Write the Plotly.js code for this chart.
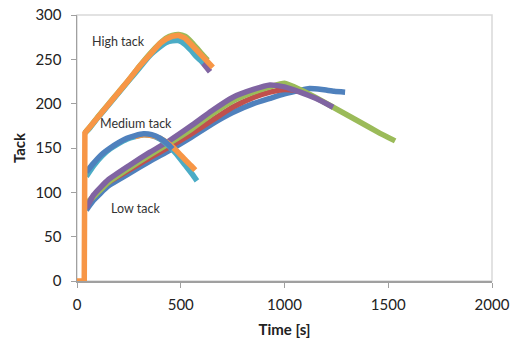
<!DOCTYPE html>
<html><head><meta charset="utf-8">
<script src="https://cdn.plot.ly/plotly-3.0.1.min.js"></script>
<style>html,body{margin:0;padding:0;background:#fff}#c{width:511px;height:339px}</style>
</head><body><div id="c"></div>
<script>
// High tack series
const highOrangeT = [0, 35, 38, 60, 100, 150, 200, 250, 300, 350, 400, 430, 460, 490, 520, 550, 580, 610, 640, 655];
const highOrangeY = [0, 0, 167, 173, 185, 199, 213, 227, 242, 256, 268, 273, 276, 277, 274, 267, 259, 251, 244, 241];
const highGreenT = [38, 60, 100, 150, 200, 250, 300, 350, 400, 430, 460, 490, 520, 550, 580, 610, 630];
const highGreenY = [167, 173, 185, 199, 213, 227, 242, 256, 268, 274, 277, 278, 276, 270, 262, 254, 249];
const highAquaT = [38, 60, 100, 150, 200, 250, 300, 350, 400, 430, 460, 490, 520, 550, 580, 610];
const highAquaY = [167, 172, 184, 198, 212, 226, 240, 254, 264, 269, 271, 271, 267, 260, 252, 246];
const highPurpleT = [400, 450, 500, 540, 580, 610, 641];
const highPurpleY = [266, 272, 272, 265, 254, 245, 236];

// Medium tack series
const medBlueT = [45, 80, 120, 160, 200, 240, 280, 320, 360, 400, 440, 460];
const medBlueY = [123, 133, 143, 150, 156, 161, 164, 166, 165, 161, 154, 149];
const medAquaT = [45, 80, 120, 160, 200, 240, 280, 320, 360, 400, 440, 480, 520, 560, 578];
const medAquaY = [118, 130, 141, 149, 155, 160, 163, 165, 164, 160, 153, 143, 131, 119, 113];
const medOrangeT = [280, 320, 360, 400, 440, 480, 520, 550, 570];
const medOrangeY = [163, 165, 164, 161, 155, 147, 137, 130, 125];

// Low tack series
const lowBlueT = [45, 80, 150, 250, 350, 450, 550, 650, 750, 850, 930, 1000, 1075, 1120, 1180, 1240, 1292];
const lowBlueY = [80, 91, 107, 121, 135, 148, 162, 177, 190, 200, 206, 211, 215, 217, 216, 214, 213];
const lowRedT = [45, 80, 150, 250, 350, 450, 550, 650, 750, 850, 930, 1000, 1050, 1100];
const lowRedY = [85, 96, 111, 125, 139, 152, 166, 181, 196, 207, 213, 216, 215, 212];
const lowPurpleT = [45, 80, 150, 250, 350, 450, 550, 650, 750, 850, 930, 1000, 1075, 1150, 1234];
const lowPurpleY = [82, 97, 114, 130, 145, 159, 175, 192, 207, 216, 221, 219, 213, 206, 196];
const lowGreenT = [45, 80, 150, 250, 350, 450, 550, 650, 750, 850, 930, 1000, 1075, 1150, 1250, 1350, 1450, 1533];
const lowGreenY = [88, 95, 111, 127, 142, 156, 171, 188, 203, 213, 219, 223, 216, 207, 194, 181, 168, 158];

// Labels
const labelText = ["High tack", "Medium tack", "Low tack"];
const labelT = [202, 284, 280];
const labelY = [270, 178, 82];

const C = {blue:'#4F81BD', red:'#C0504D', green:'#9BBB59', purple:'#8064A2', aqua:'#4BACC6', orange:'#F79646'};
const W = 5.5;
function tr(x, y, c) {
  return {x: x, y: y, type: 'scatter', mode: 'lines', line: {color: c, width: W, shape: 'spline', smoothing: 0.5}, hoverinfo: 'skip', showlegend: false};
}
const data = [
  tr(lowBlueT, lowBlueY, C.blue),
  tr(lowRedT, lowRedY, C.red),
  tr(lowGreenT, lowGreenY, C.green),
  tr(lowPurpleT, lowPurpleY, C.purple),
  tr(medAquaT, medAquaY, C.aqua),
  tr(medOrangeT, medOrangeY, C.orange),
  tr(medBlueT, medBlueY, C.blue),
  tr(highPurpleT, highPurpleY, C.purple),
  tr(highAquaT, highAquaY, C.aqua),
  tr(highGreenT, highGreenY, C.green),
  Object.assign(tr(highOrangeT, highOrangeY, C.orange), {line: {color: C.orange, width: W, shape: 'linear'}})
];
const fam = 'Lato, "Open Sans", sans-serif';
const layout = {
  width: 511, height: 339,
  margin: {l: 77, r: 19, t: 15, b: 58},
  paper_bgcolor: '#fff', plot_bgcolor: '#fff',
  font: {family: fam, size: 15, color: '#222'},
  xaxis: {range: [0, 2000], dtick: 500, tick0: 0, showgrid: false, zeroline: false,
    showline: true, linecolor: '#a0a0a0', linewidth: 1.5, ticks: 'outside', ticklen: 5, tickcolor: '#a0a0a0',
    ticklabelstandoff: 4,
    tickfont: {family: fam, size: 15, color: '#222'},
    title: {text: '<b>Time [s]</b>', font: {family: fam, size: 15, color: '#222'}, standoff: 13}},
  yaxis: {range: [0, 300], dtick: 50, tick0: 0, showgrid: false, zeroline: false,
    showline: true, linecolor: '#a0a0a0', linewidth: 1.5, ticks: 'outside', ticklen: 5, tickcolor: '#a0a0a0',
    ticklabelstandoff: 6,
    tickfont: {family: fam, size: 15, color: '#222'},
    title: {text: '<b>Tack</b>', font: {family: fam, size: 15, color: '#222'}, standoff: 6}},
  shapes: [{type: 'rect', xref: 'paper', yref: 'paper', x0: 0, x1: 1, y0: 0, y1: 1, line: {color: '#d9d9d9', width: 1.5}, layer: 'below'}],
  annotations: labelText.map((t, i) => ({x: labelT[i], y: labelY[i], xref: 'x', yref: 'y', text: t, showarrow: false,
    font: {family: fam, size: 12.5, color: '#333'}}))
};
Plotly.newPlot('c', data, layout, {staticPlot: true, displayModeBar: false});
</script></body></html>
